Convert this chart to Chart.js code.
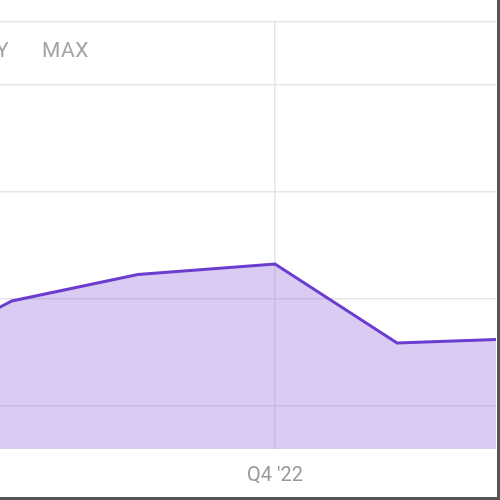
<!DOCTYPE html>
<html>
<head>
<meta charset="utf-8">
<script src="https://cdn.jsdelivr.net/npm/chart.js@4.4.1/dist/chart.umd.min.js"></script>
<style>
  html, body { margin: 0; padding: 0; background: #fff; }
  #frame { position: relative; width: 500px; height: 500px; box-sizing: border-box;
           border-right: 3px solid #555; border-bottom: 3px solid #555; overflow: hidden; }
  #wrap { position: absolute; left: 0; top: 0; width: 497px; height: 503px; }
  .btn { position: absolute; top: 37px; font-family: Roboto, sans-serif; font-size: 21px;
         color: #a3a3a3; line-height: 26px; letter-spacing: 0.5px; }
</style>
</head>
<body>
<div id="frame">
  <div id="wrap"><canvas id="c"></canvas></div>
  <div class="btn" style="left:-91px;width:100px;text-align:right;">1Y</div>
  <div class="btn" style="left:42px;">MAX</div>
</div>
<script>
// x in months since Jan 2022 (Oct 2022 = 9 -> "Q4 '22")
const months = [0, 2.88, 5.81, 9, 11.84, 14.8];
const values = [13.9, 19.81, 22.29, 23.27, 15.89, 16.3];
const xTickValues = [9];
const xTickLabels = ["Q4 '22"];
const yTickValues = [10, 20, 30, 40];
const xMin = 2.605, xMax = 14.14;
const yMin = 5.98, yMax = 45.89;

const points = months.map((m, i) => ({ x: m, y: values[i] }));

new Chart(document.getElementById('c'), {
  type: 'line',
  data: {
    datasets: [{
      data: points,
      borderColor: '#6a3dcf',
      borderWidth: 3,
      backgroundColor: 'rgba(120,70,210,0.28)',
      fill: 'start',
      pointRadius: 0,
      tension: 0
    }]
  },
  options: {
    responsive: true,
    maintainAspectRatio: false,
    animation: false,
    layout: { padding: { top: 22, left: 0, right: 1, bottom: 0 } },
    plugins: { legend: { display: false }, tooltip: { enabled: false } },
    scales: {
      x: {
        type: 'linear',
        min: xMin, max: xMax,
        afterBuildTicks: s => { s.ticks = xTickValues.map(v => ({ value: v })); },
        ticks: {
          callback: (v) => { const i = xTickValues.indexOf(v); return i >= 0 ? xTickLabels[i] : ''; },
          font: { family: 'Roboto', size: 20, lineHeight: 1.0 },
          color: '#9a9a9a',
          padding: 17,
          maxRotation: 0
        },
        grid: { color: '#e6e6e6', lineWidth: 1.5, drawTicks: false },
        border: { display: false }
      },
      y: {
        type: 'linear',
        min: yMin, max: yMax,
        afterBuildTicks: s => { s.ticks = yTickValues.concat([yMax]).map(v => ({ value: v })); },
        ticks: { display: false },
        grid: { color: '#e6e6e6', lineWidth: 1.5, drawTicks: false },
        border: { display: false }
      }
    }
  }
});
</script>
</body>
</html>
